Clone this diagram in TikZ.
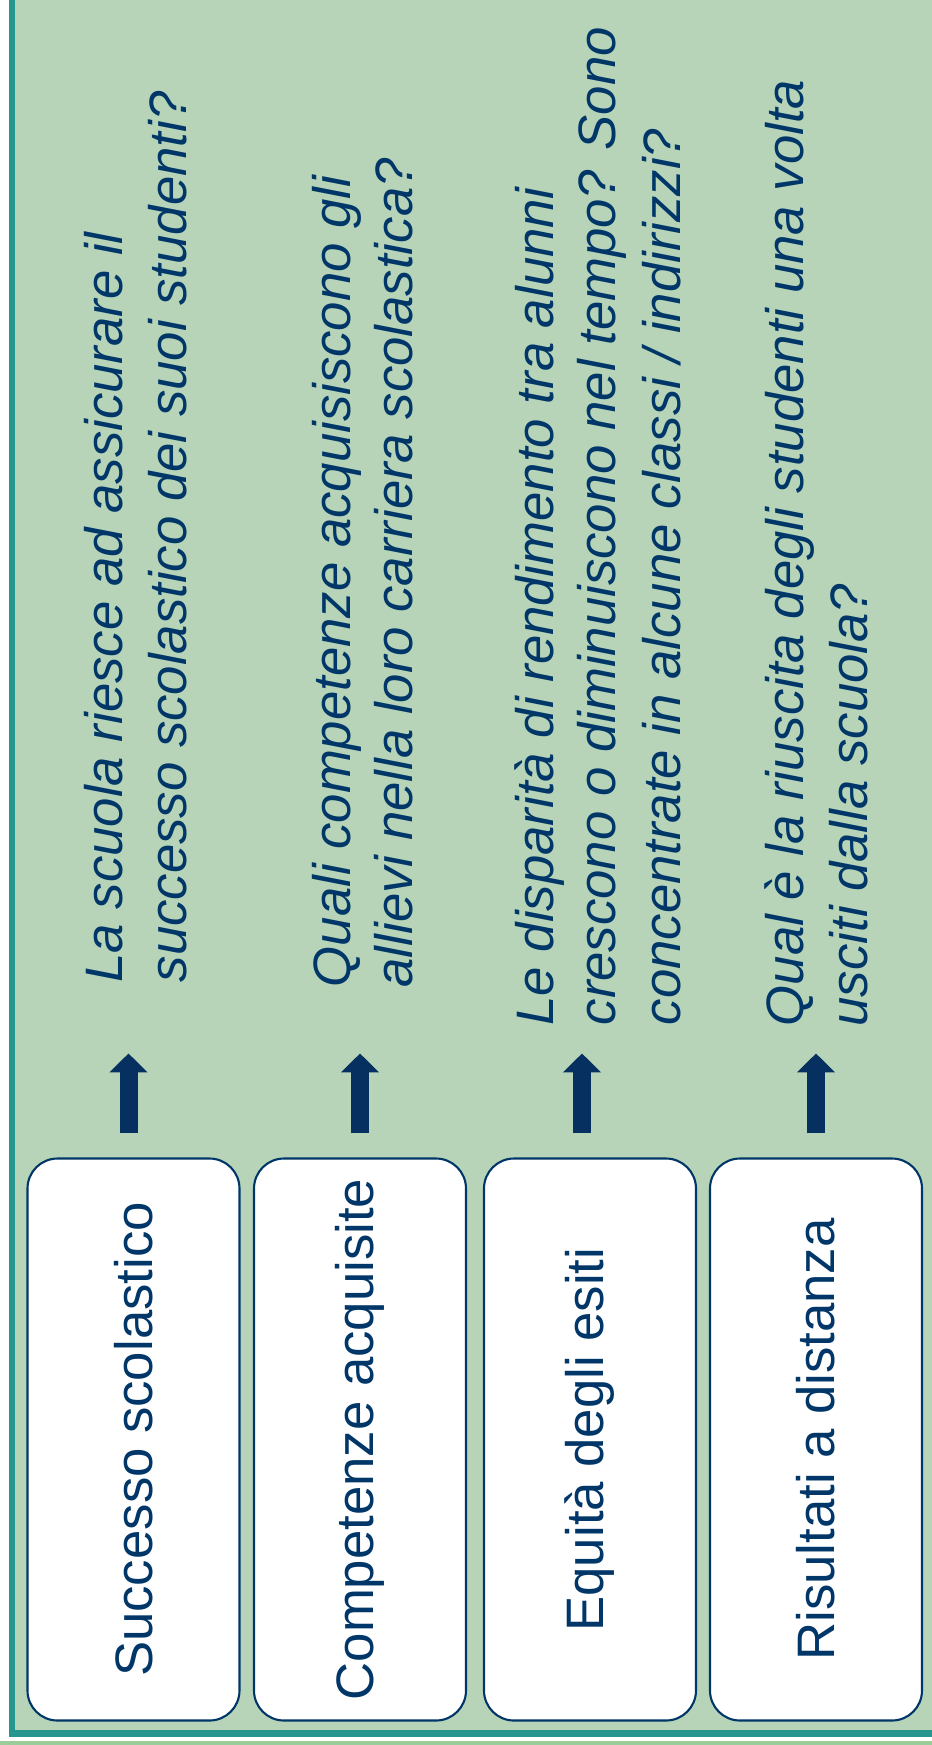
\documentclass[tikz,border=0pt]{standalone}
\usepackage{fontspec}
\setmainfont{Liberation Sans}
\usepackage{tikz}
\usetikzlibrary{arrows.meta}

\definecolor{fond}{HTML}{B7D4B8}
\definecolor{sarcelle}{HTML}{27968F}
\definecolor{vertclair}{HTML}{9BCD9B}
\definecolor{marine}{HTML}{003668}
\definecolor{bleufleche}{HTML}{05305F}

\begin{document}
\begin{tikzpicture}[
    boite/.style={draw=marine, line width=0.6pt, fill=white, rounded corners=3mm,
      minimum width=2.12cm, minimum height=5.62cm, inner sep=0pt, text=marine,
      font=\fontsize{15}{18}\selectfont},
    question/.style={rotate=90, anchor=base west, inner sep=0pt, text=marine,
      font=\fontsize{15}{18}\selectfont\itshape},
    fleche/.style={draw=bleufleche, line width=1.8mm,
      -{Triangle[width=3.7mm,length=1.9mm]}}
  ]
    % Cadre
    \useasboundingbox (0,0) rectangle (9.32,-17.45) ;
    \fill[white] (0,0) rectangle (9.32,-17.45) ;
    \fill[fond] (0.15,0) rectangle (9.32,-17.30) ;
    \fill[sarcelle] (0.09,0) rectangle (0.15,-17.37) ;
    \fill[sarcelle] (0.09,-17.30) rectangle (9.32,-17.37) ;
    \fill[vertclair] (0,-17.41) rectangle (9.32,-17.45) ;
    % Boites
    \draw (1.335,-14.395) node[boite] (succ) {\rotatebox{90}{Successo scolastico}} ;
    \draw (3.60,-14.395) node[boite] (comp) {\rotatebox{90}{Competenze acquisite}} ;
    \draw (5.90,-14.395) node[boite] (equi) {\rotatebox{90}{Equità degli esiti}} ;
    \draw (8.16,-14.395) node[boite] (risu) {\rotatebox{90}{Risultati a distanza}} ;
    % Fleches
    \draw[fleche] ([xshift=-0.5mm,yshift=2.4mm]succ.north) -- ++(0,0.8) ;
    \draw[fleche] ([yshift=2.4mm]comp.north) -- ++(0,0.8) ;
    \draw[fleche] ([xshift=-0.8mm,yshift=2.4mm]equi.north) -- ++(0,0.8) ;
    \draw[fleche] ([yshift=2.4mm]risu.north) -- ++(0,0.8) ;
    % Questions
    \draw (1.22,-9.83) node[question] (succa) {La scuola riesce ad assicurare il} ;
    \draw (1.87,-9.83) node[question] (succb) {successo scolastico dei suoi studenti?} ;
    \draw (3.50,-9.88) node[question] (compa) {Quali competenze acquisiscono gli} ;
    \draw (4.12,-9.88) node[question] (compb) {allievi nella loro carriera scolastica?} ;
    \draw (5.53,-10.26) node[question] (equia) {Le disparità di rendimento tra alunni} ;
    \draw (6.15,-10.26) node[question] (equib) {crescono o diminuiscono nel tempo? Sono} ;
    \draw (6.80,-10.26) node[question] (equic) {concentrate in alcune classi / indirizzi?} ;
    \draw (8.03,-10.27) node[question] (risua) {Qual è la riuscita degli studenti una volta} ;
    \draw (8.67,-10.27) node[question] (risub) {usciti dalla scuola?} ;
  \end{tikzpicture}
\end{document}
